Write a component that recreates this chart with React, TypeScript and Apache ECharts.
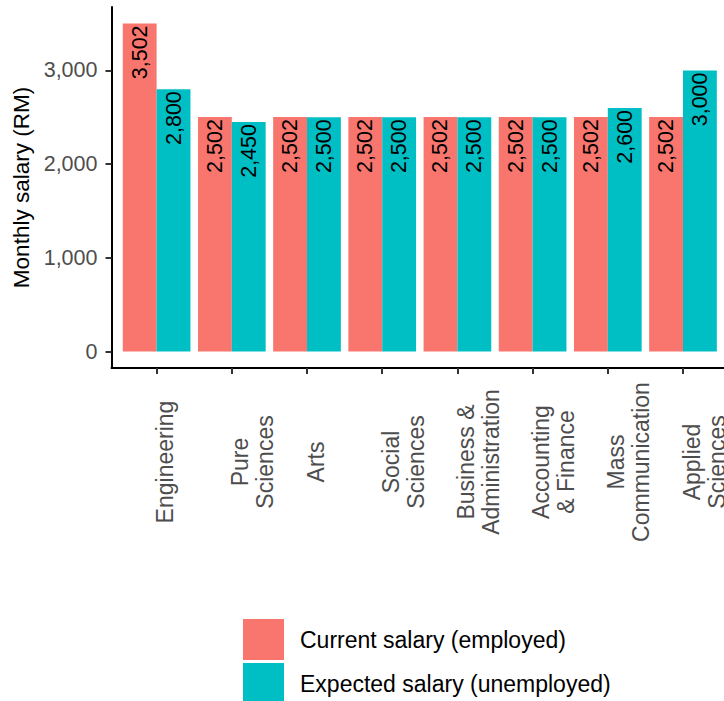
import React, { useEffect, useRef } from "react";
import * as echarts from "echarts";

const categories = [
  "Engineering",
  "Pure\nSciences",
  "Arts",
  "Social\nSciences",
  "Business &\nAdministration",
  "Accounting\n& Finance",
  "Mass\nCommunication",
  "Applied\nSciences",
];
const currentSalary = [3502, 2502, 2502, 2502, 2502, 2502, 2502, 2502];
const expectedSalary = [2800, 2450, 2500, 2500, 2500, 2500, 2600, 3000];
const yTicks = [0, 1000, 2000, 3000];
const seriesNames = ["Current salary (employed)", "Expected salary (unemployed)"];

const fmt = (v: number) => v.toLocaleString("en-US");
const FONT = "'Liberation Sans', Arial, Helvetica, sans-serif";

export default function App() {
  const ref = useRef<HTMLDivElement>(null);
  useEffect(() => {
    if (!ref.current) return;
    const chart = echarts.init(ref.current, undefined, { renderer: "svg" });
    const positions = categories.map((_, i) => i + 1);
    const barLabel = {
      show: true,
      position: "insideTop",
      distance: 2,
      rotate: 90,
      align: "right",
      verticalAlign: "middle",
      color: "#000",
      fontSize: 21.5,
      fontFamily: FONT,
      formatter: (p: any) => fmt(p.value[1]),
    };
    const legendBase = {
      orient: "vertical",
      left: 243,
      itemWidth: 41,
      itemHeight: 41,
      icon: "rect",
      selectedMode: false,
      padding: 0,
      textStyle: { fontSize: 23, color: "#000", fontFamily: FONT, padding: [0, 0, 0, 11] },
    };
    chart.setOption({
      animation: false,
      textStyle: { fontFamily: FONT },
      grid: { left: 111.5, right: 0, top: 7, bottom: 333, containLabel: false },
      legend: [
        { ...legendBase, top: 619, data: [seriesNames[0]] },
        { ...legendBase, top: 663, data: [seriesNames[1]] },
      ],
      xAxis: {
        type: "value",
        min: 0.4,
        max: 8.6,
        splitLine: { show: false },
        axisLine: { show: true, onZero: false, lineStyle: { color: "#000", width: 2 } },
        axisTick: { show: true, customValues: positions, length: 6, lineStyle: { color: "#333", width: 2 } },
        axisLabel: {
          customValues: positions,
          formatter: (v: number) => categories[Math.round(v) - 1] ?? "",
          rotate: 90,
          align: "center",
          verticalAlign: "top",
          margin: 94,
          fontSize: 23,
          lineHeight: 25,
          padding: [-4, 0, 0, 0],
          color: "#4D4D4D",
          fontFamily: FONT,
        },
      },
      yAxis: {
        type: "value",
        min: -175.1,
        max: 3677.1,
        name: "Monthly salary (RM)",
        nameLocation: "middle",
        nameRotate: 90,
        nameGap: 75,
        nameTextStyle: { fontSize: 22.5, color: "#000", fontFamily: FONT },
        splitLine: { show: false },
        axisLine: { show: true, onZero: false, lineStyle: { color: "#000", width: 2 } },
        axisTick: { show: true, customValues: yTicks, length: 6, lineStyle: { color: "#333", width: 2 } },
        axisLabel: {
          customValues: yTicks,
          formatter: (v: number) => fmt(v),
          margin: 14,
          fontSize: 21.5,
          color: "#4D4D4D",
          fontFamily: FONT,
        },
      },
      series: [
        {
          name: seriesNames[0],
          type: "bar",
          barWidth: "45%",
          barGap: "0%",
          itemStyle: { color: "#F8766D" },
          label: barLabel,
          data: currentSalary.map((v, i) => [positions[i], v]),
        },
        {
          name: seriesNames[1],
          type: "bar",
          barWidth: "45%",
          barGap: "0%",
          itemStyle: { color: "#00BFC4" },
          label: barLabel,
          data: expectedSalary.map((v, i) => [positions[i], v]),
        },
      ],
    });
    return () => chart.dispose();
  }, []);
  return (
    <div
      style={{
        position: "fixed",
        left: 0,
        top: 0,
        width: 724,
        height: 701,
        overflow: "hidden",
        background: "#fff",
      }}
    >
      <div ref={ref} style={{ width: 729, height: 701 }} />
    </div>
  );
}
